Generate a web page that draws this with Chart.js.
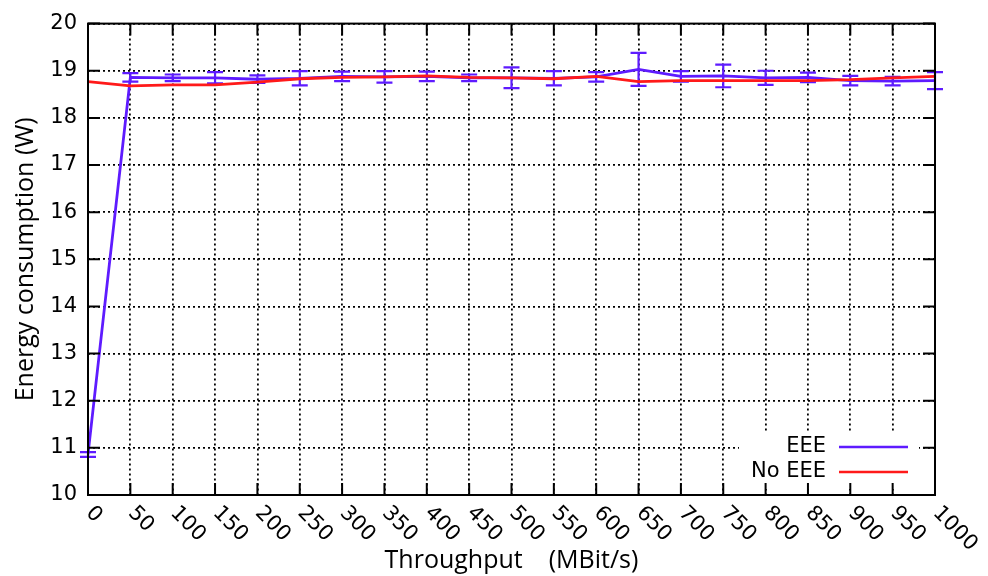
<!DOCTYPE html>
<html>
<head>
<meta charset="utf-8">
<title>Energy consumption vs throughput</title>
<script src="https://cdn.jsdelivr.net/npm/chart.js@4.4.1/dist/chart.umd.min.js"></script>
<style>
  html, body { margin: 0; padding: 0; background: #fff; }
  #wrap { width: 988px; height: 576px; }
</style>
</head>
<body>
<div id="wrap"><canvas id="energyChart" width="988" height="576"></canvas></div>
<script>
// measured points, throughput in MBit/s
const throughput = [0, 50, 100, 150, 200, 250, 300, 350, 400, 450, 500,
                    550, 600, 650, 700, 750, 800, 850, 900, 950, 1000];
const eeePower = [10.86, 18.86, 18.85, 18.85, 18.82, 18.84, 18.88, 18.87, 18.88, 18.85, 18.85,
                  18.84, 18.87, 19.03, 18.88, 18.89, 18.85, 18.86, 18.79, 18.78, 18.79];
const eeeError = [0.05, 0.09, 0.07, 0.12, 0.08, 0.15, 0.10, 0.12, 0.10, 0.07, 0.22,
                  0.15, 0.10, 0.35, 0.11, 0.24, 0.15, 0.10, 0.10, 0.09, 0.18];
const noEeePower = [18.77, 18.68, 18.70, 18.70, 18.76, 18.83, 18.86, 18.87, 18.89, 18.86, 18.85,
                    18.83, 18.88, 18.77, 18.79, 18.79, 18.79, 18.79, 18.81, 18.85, 18.88];
const seriesNames = ['EEE', 'No EEE'];

const BLUE = '#5e1bff';
const RED = '#ff1a1a';
const tickFont = '21px "DejaVu Sans"';

// gnuplot style frame: inward ticks on every side, rotated x labels, legend in the corner
const frame = {
  id: 'frame',
  afterDatasetDraw(chart, args) {
    if (args.index !== 1) return;
    const ctx = chart.ctx;
    const xs = chart.scales.x, ys = chart.scales.y;
    ctx.save();
    ctx.strokeStyle = BLUE;
    ctx.lineWidth = 2.2;
    throughput.forEach((t, i) => {
      const px = xs.getPixelForValue(t);
      const hi = ys.getPixelForValue(eeePower[i] + eeeError[i]);
      const lo = ys.getPixelForValue(eeePower[i] - eeeError[i]);
      ctx.beginPath();
      ctx.moveTo(px, hi); ctx.lineTo(px, lo);
      ctx.moveTo(px - 8, hi); ctx.lineTo(px + 8, hi);
      ctx.moveTo(px - 8, lo); ctx.lineTo(px + 8, lo);
      ctx.stroke();
    });
    ctx.restore();
  },
  afterDraw(chart) {
    const ctx = chart.ctx;
    const {left, right, top, bottom} = chart.chartArea;
    const xs = chart.scales.x, ys = chart.scales.y;

    // legend
    ctx.save();
    ctx.fillStyle = '#fff';
    ctx.fillRect(739, 431, 180, 58);
    ctx.font = tickFont;
    ctx.fillStyle = '#000';
    ctx.textAlign = 'right';
    ctx.textBaseline = 'middle';
    [BLUE, RED].forEach((c, i) => {
      const y = 447 + i * 25;
      ctx.fillText(seriesNames[i], 826, y);
      ctx.strokeStyle = c;
      ctx.lineWidth = 2.5;
      ctx.beginPath();
      ctx.moveTo(839, y); ctx.lineTo(908, y);
      ctx.stroke();
    });

    // ticks and border
    ctx.strokeStyle = '#000';
    ctx.lineWidth = 2;
    ctx.beginPath();
    xs.ticks.forEach(t => {
      const px = xs.getPixelForValue(t.value);
      ctx.moveTo(px, bottom); ctx.lineTo(px, bottom - 12);
      ctx.moveTo(px, top); ctx.lineTo(px, top + 12);
    });
    ys.ticks.forEach(t => {
      const py = ys.getPixelForValue(t.value);
      ctx.moveTo(left, py); ctx.lineTo(left + 12, py);
      ctx.moveTo(right, py); ctx.lineTo(right - 12, py);
    });
    ctx.stroke();
    ctx.strokeRect(left, top, right - left, bottom - top);

    // x tick labels, rotated down to the right
    ctx.textAlign = 'left';
    ctx.textBaseline = 'middle';
    xs.ticks.forEach(t => {
      const px = xs.getPixelForValue(t.value);
      ctx.save();
      ctx.translate(px + 1, bottom + 15);
      ctx.rotate(Math.PI / 4);
      ctx.fillText(String(t.value), 0, 0);
      ctx.restore();
    });
    ctx.restore();
  }
};

new Chart(document.getElementById('energyChart'), {
  type: 'line',
  data: {
    datasets: [
      {
        label: seriesNames[1],
        data: throughput.map((t, i) => ({x: t, y: noEeePower[i]})),
        borderColor: RED,
        borderWidth: 2.8,
        pointRadius: 0,
        tension: 0
      },
      {
        label: seriesNames[0],
        data: throughput.map((t, i) => ({x: t, y: eeePower[i]})),
        borderColor: BLUE,
        borderWidth: 2.8,
        pointRadius: 0,
        tension: 0
      }
    ]
  },
  options: {
    responsive: false,
    animation: false,
    layout: { padding: { top: 20, right: 53 } },
    plugins: { legend: { display: false }, tooltip: { enabled: false } },
    scales: {
      x: {
        type: 'linear',
        min: 0,
        max: 1000,
        ticks: { stepSize: 50, display: false },
        grid: { color: '#000', lineWidth: 1.8, drawTicks: false },
        border: { display: false, dash: [2, 3] },
        title: {
          display: true,
          text: 'Throughput    (MBit/s)',
          color: '#000',
          font: { family: '"Open Sans"', size: 25 },
          padding: { top: 0, bottom: 0 }
        },
        afterFit(scale) { scale.height = 81; }
      },
      y: {
        min: 10,
        max: 20,
        ticks: { stepSize: 1, color: '#000', padding: 11, font: { family: '"DejaVu Sans"', size: 21 } },
        grid: { color: '#000', lineWidth: 1.8, drawTicks: false },
        border: { display: false, dash: [2, 3] },
        title: {
          display: true,
          text: 'Energy consumption (W)',
          color: '#000',
          font: { family: '"Open Sans"', size: 25 },
          padding: { top: 11, bottom: 0 }
        },
        afterFit(scale) { scale.width = 88; }
      }
    }
  },
  plugins: [frame]
});
</script>
</body>
</html>
